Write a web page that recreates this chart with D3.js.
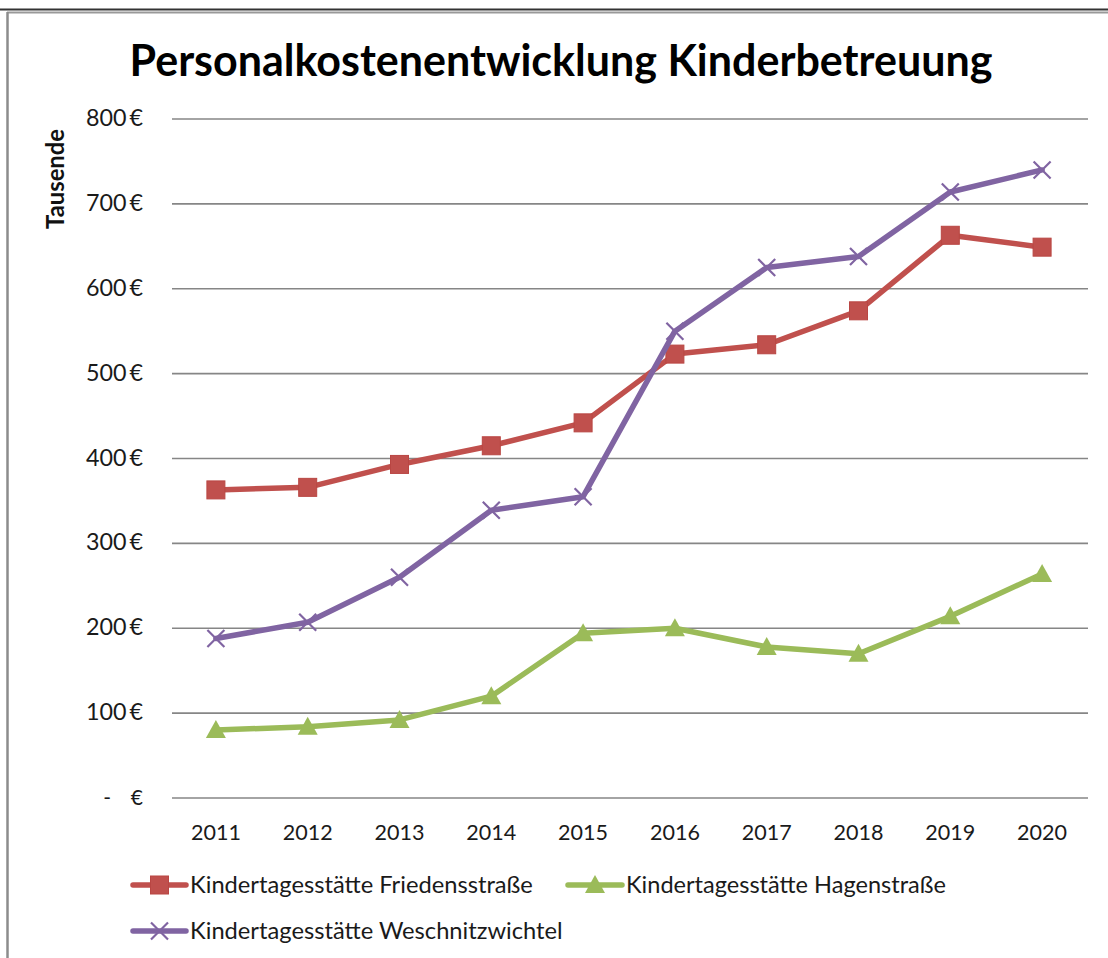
<!DOCTYPE html>
<html><head><meta charset="utf-8">
<script src="https://cdn.jsdelivr.net/npm/d3@7"></script>
<style>body{margin:0;background:#fff}svg{display:block}text{font-family:Lato,"Open Sans",sans-serif}</style>
</head><body>
<script>
const years = ["2011","2012","2013","2014","2015","2016","2017","2018","2019","2020"];
const friedens = [363,366,393,415,442,523,534,574,663,649];
const hagen = [80,84,92,120,194,200,178,170,214,264];
const weschnitz = [188,207,260,339,355,550,625,638,714,740];
const yTicks = [0,100,200,300,400,500,600,700,800];
const seriesNames = ["Kindertagesstätte Friedensstraße","Kindertagesstätte Hagenstraße","Kindertagesstätte Weschnitzwichtel"];
const seriesColors = ["#C0504D","#9BBB59","#8064A2"];
const titleText = "Personalkostenentwicklung Kinderbetreuung";

const W=1108,H=958;
const svg=d3.select("body").append("svg").attr("width",W).attr("height",H);
function fit(sel,target){
  const base=+sel.attr("font-size");
  const l=sel.node().getComputedTextLength();
  sel.attr("font-size",base*target/l);
  return sel;
}
// frame
svg.append("line").attr("x1",0).attr("x2",W).attr("y1",9.5).attr("y2",9.5).attr("stroke","#333").attr("stroke-width",2);
svg.append("line").attr("x1",7).attr("x2",W).attr("y1",12.5).attr("y2",12.5).attr("stroke","#999").attr("stroke-width",2);
svg.append("line").attr("x1",7.5).attr("x2",7.5).attr("y1",12).attr("y2",H).attr("stroke","#8c8c8c").attr("stroke-width",2.5);

const x=d3.scaleBand().domain(years).range([170,1088]);
const y=d3.scaleLinear().domain([0,800]).range([798,119]);

// grid
svg.append("g").selectAll("line").data(yTicks).join("line")
 .attr("x1",172).attr("x2",1088).attr("y1",d=>y(d)).attr("y2",d=>y(d))
 .attr("stroke","#868686").attr("stroke-width",1.6);

// y labels
const yl=svg.append("g").attr("fill","#1a1a1a");
yTicks.forEach(d=>{
  if(d===0){
    yl.append("text").attr("x",143).attr("y",y(d)+7).attr("font-size",21).attr("text-anchor","end").text("€");
    yl.append("text").attr("x",111).attr("y",y(d)+7).attr("font-size",21).attr("text-anchor","end").text("-");
  } else {
    const t=yl.append("text").attr("x",143).attr("y",y(d)+7).attr("font-size",20).attr("text-anchor","end").text(d3.format("d")(d)+"\u2009€");
    fit(t,57);
  }
});
// x labels
svg.append("g").selectAll("text").data(years).join("text")
 .attr("x",d=>x(d)+x.bandwidth()/2).attr("y",840).attr("text-anchor","middle")
 .attr("font-size",20).attr("fill","#1a1a1a").text(d=>d)
 .each(function(){fit(d3.select(this),50);});

// axis title
const at=svg.append("text").attr("transform","translate(64,179) rotate(-90)").attr("text-anchor","middle")
 .attr("font-size",17).attr("font-weight","bold").attr("fill","#111").text("Tausende");
fit(at,100);

// title
const t=svg.append("text").attr("x",561).attr("y",76).attr("text-anchor","middle")
 .attr("font-size",38).attr("font-weight","bold").attr("fill","#000").text(titleText);
fit(t,863);

const cx=d=>x(d)+x.bandwidth()/2;
const data=[friedens,hagen,weschnitz];
const line=d3.line().x((d,i)=>cx(years[i])).y(d=>y(d));

function marker(g,type,px,py,col){
  if(type===0){
    g.append("rect").attr("x",px-9).attr("y",py-9).attr("width",18).attr("height",18).attr("fill",col).attr("stroke","#b94643").attr("stroke-width",1);
  } else if(type===1){
    const s=10;
    g.append("path").attr("d",`M${px},${py-s}L${px+s},${py+s*0.8}L${px-s},${py+s*0.8}Z`).attr("fill",col);
  } else {
    const s=8.5;
    g.append("path").attr("d",`M${px-s},${py-s}L${px+s},${py+s}M${px-s},${py+s}L${px+s},${py-s}`).attr("stroke",col).attr("stroke-width",2.2).attr("fill","none");
  }
}

data.forEach((vals,k)=>{
  const g=svg.append("g");
  g.append("path").datum(vals).attr("d",line).attr("fill","none").attr("stroke",seriesColors[k]).attr("stroke-width",5.5).attr("stroke-linejoin","round").attr("stroke-linecap","round");
  vals.forEach((v,i)=>marker(g,k,cx(years[i]),y(v),seriesColors[k]));
});

// legend
const legPos=[[133,885,53,190,343],[568,885,54,626,320],[133,931,53,190,373]];
seriesNames.forEach((n,k)=>{
  const [lx,ly,lw,tx,tw]=legPos[k];
  const g=svg.append("g");
  g.append("line").attr("x1",lx).attr("x2",lx+lw).attr("y1",ly).attr("y2",ly).attr("stroke",seriesColors[k]).attr("stroke-width",5.5).attr("stroke-linecap","round");
  marker(g,k,lx+lw/2,ly,seriesColors[k]);
  const tt=g.append("text").attr("x",tx).attr("y",ly+8).attr("font-size",20).attr("fill","#1a1a1a").text(n);
  fit(tt,tw);
});
</script>
</body></html>
